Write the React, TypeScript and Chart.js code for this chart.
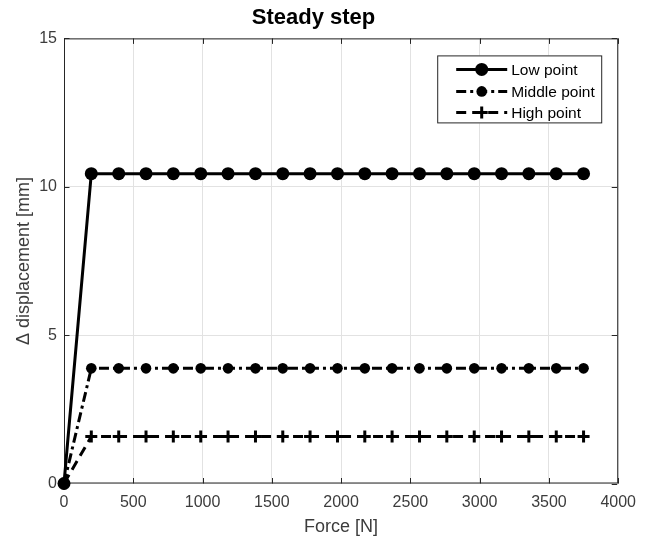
import { useEffect, useRef } from "react";
import { Chart, registerables } from "chart.js";

Chart.register(...registerables);

// Applied force levels [N]
const forceN = [0, 197, 395, 592, 789, 987, 1184, 1382, 1579, 1776, 1974, 2171, 2368, 2566, 2763, 2961, 3158, 3355, 3553, 3750];

// Displacement change [mm] measured at each point
const lowPoint = [0, 10.44, 10.44, 10.44, 10.44, 10.44, 10.44, 10.44, 10.44, 10.44, 10.44, 10.44, 10.44, 10.44, 10.44, 10.44, 10.44, 10.44, 10.44, 10.44];
const middlePoint = [0, 3.88, 3.88, 3.88, 3.88, 3.88, 3.88, 3.88, 3.88, 3.88, 3.88, 3.88, 3.88, 3.88, 3.88, 3.88, 3.88, 3.88, 3.88, 3.88];
const highPoint = [0, 1.58, 1.58, 1.58, 1.58, 1.58, 1.58, 1.58, 1.58, 1.58, 1.58, 1.58, 1.58, 1.58, 1.58, 1.58, 1.58, 1.58, 1.58, 1.58];

const xTicks = [0, 500, 1000, 1500, 2000, 2500, 3000, 3500, 4000];
const yTicks = [0, 5, 10, 15];

const seriesNames = ["Low point", "Middle point", "High point"];

const FONT = "'Liberation Sans', Arial, Helvetica, sans-serif";
const AXIS_COLOR = "#262626";
const LABEL_COLOR = "#3c3c3c";

type SeriesStyle = { dash: number[]; pointStyle: string; radius: number; width: number };
const styles: SeriesStyle[] = [
  { dash: [], pointStyle: "circle", radius: 6.5, width: 3 },
  { dash: [10, 4, 3, 4], pointStyle: "circle", radius: 5.3, width: 3 },
  { dash: [10, 6], pointStyle: "cross", radius: 6, width: 3 },
];

// Box frame with inward tick marks on all four sides
const framePlugin = {
  id: "boxFrame",
  beforeDatasetsDraw(chart: any) {
    const { ctx, chartArea: a, scales } = chart;
    const tick = 5.5;
    ctx.save();
    ctx.strokeStyle = AXIS_COLOR;
    ctx.lineWidth = 1;
    ctx.strokeRect(a.left + 0.5, a.top + 0.5, a.right - a.left - 1, a.bottom - a.top - 1);
    ctx.beginPath();
    for (const v of xTicks) {
      const px = Math.round(scales.x.getPixelForValue(v)) + 0.5;
      ctx.moveTo(px, a.bottom);
      ctx.lineTo(px, a.bottom - tick);
      ctx.moveTo(px, a.top);
      ctx.lineTo(px, a.top + tick);
    }
    for (const v of yTicks) {
      const py = Math.round(scales.y.getPixelForValue(v)) + 0.5;
      ctx.moveTo(a.left, py);
      ctx.lineTo(a.left + tick, py);
      ctx.moveTo(a.right - 1, py);
      ctx.lineTo(a.right - 1 - tick, py);
    }
    ctx.stroke();
    ctx.restore();
  },
};

// Boxed legend in the upper-right corner of the plot area
const legendPlugin = {
  id: "boxLegend",
  afterDatasetsDraw(chart: any) {
    const { ctx, chartArea: a } = chart;
    const boxRight = a.right - 16;
    const boxLeft = boxRight - 165;
    const boxTop = a.top + 17;
    const boxH = 68;
    ctx.save();
    ctx.fillStyle = "#ffffff";
    ctx.fillRect(boxLeft, boxTop, boxRight - boxLeft, boxH);
    ctx.strokeStyle = AXIS_COLOR;
    ctx.lineWidth = 1;
    ctx.strokeRect(boxLeft + 0.5, boxTop + 0.5, boxRight - boxLeft - 1, boxH - 1);

    const rows = [boxTop + 14, boxTop + 36, boxTop + 57];
    const x0 = boxLeft + 19;
    const x1 = boxLeft + 70;
    const xm = (x0 + x1) / 2;
    seriesNames.forEach((name, i) => {
      const s = styles[i];
      const y = rows[i];
      ctx.strokeStyle = "#000";
      ctx.lineWidth = s.width;
      ctx.setLineDash(s.dash);
      ctx.beginPath();
      ctx.moveTo(x0, y);
      ctx.lineTo(x1, y);
      ctx.stroke();
      ctx.setLineDash([]);
      if (s.pointStyle === "circle") {
        ctx.fillStyle = "#000";
        ctx.beginPath();
        ctx.arc(xm, y, s.radius, 0, Math.PI * 2);
        ctx.fill();
      } else {
        ctx.lineWidth = 3;
        ctx.beginPath();
        ctx.moveTo(xm - s.radius, y);
        ctx.lineTo(xm + s.radius, y);
        ctx.moveTo(xm, y - s.radius);
        ctx.lineTo(xm, y + s.radius);
        ctx.stroke();
      }
      ctx.fillStyle = "#000";
      ctx.font = `15.5px ${FONT}`;
      ctx.textAlign = "left";
      ctx.textBaseline = "middle";
      ctx.fillText(name, x1 + 4, y + 1);
    });
    ctx.restore();
  },
};

export default function App() {
  const canvasRef = useRef<HTMLCanvasElement | null>(null);

  useEffect(() => {
    const canvas = canvasRef.current;
    if (!canvas) return;
    const values = [lowPoint, middlePoint, highPoint];
    const chart = new Chart(canvas, {
      type: "line",
      data: {
        datasets: values.map((vals, i) => ({
          label: seriesNames[i],
          data: forceN.map((x, j) => ({ x, y: vals[j] })),
          borderColor: "#000",
          backgroundColor: "#000",
          borderWidth: styles[i].width,
          borderDash: styles[i].dash,
          pointStyle: styles[i].pointStyle as any,
          pointRadius: styles[i].radius,
          pointBorderWidth: styles[i].pointStyle === "cross" ? 3 : 0,
          pointBackgroundColor: "#000",
          pointBorderColor: "#000",
          tension: 0,
          fill: false,
          clip: false as any,
        })),
      },
      options: {
        animation: false,
        responsive: false,
        maintainAspectRatio: false,
        layout: { padding: { left: 0, right: 18, top: 0, bottom: 0 } },
        plugins: {
          legend: { display: false },
          tooltip: { enabled: false },
          title: {
            display: true,
            text: "Steady step",
            color: "#000",
            font: { family: FONT, size: 22, weight: "bold" },
            padding: { top: 5, bottom: 7 },
          },
        },
        scales: {
          x: {
            type: "linear",
            min: 0,
            max: 4000,
            afterBuildTicks: (scale: any) => {
              scale.ticks = xTicks.map((value) => ({ value }));
            },
            afterFit: (scale: any) => {
              scale.height = 58.5;
            },
            grid: { color: "#e2e2e2", lineWidth: 1, drawTicks: false },
            border: { display: false },
            ticks: {
              color: LABEL_COLOR,
              font: { family: FONT, size: 16 },
              padding: 9,
              maxRotation: 0,
              autoSkip: false,
              callback: (v: any) => String(v),
            },
            title: {
              display: true,
              text: "Force [N]",
              color: LABEL_COLOR,
              font: { family: FONT, size: 18 },
              padding: { top: 0, bottom: 4 },
            },
          },
          y: {
            type: "linear",
            min: 0,
            max: 15,
            afterBuildTicks: (scale: any) => {
              scale.ticks = yTicks.map((value) => ({ value }));
            },
            afterFit: (scale: any) => {
              scale.width = 64;
            },
            grid: { color: "#e2e2e2", lineWidth: 1, drawTicks: false },
            border: { display: false },
            ticks: {
              color: LABEL_COLOR,
              font: { family: FONT, size: 16 },
              padding: 7,
              callback: (v: any) => String(v),
            },
            title: {
              display: true,
              text: "Δ displacement [mm]",
              color: LABEL_COLOR,
              font: { family: FONT, size: 18 },
              padding: { top: 13, bottom: 0 },
            },
          },
        },
      },
      plugins: [framePlugin, legendPlugin],
    });
    return () => chart.destroy();
  }, []);

  return (
    <div style={{ position: "fixed", left: 0, top: 0, width: 645, height: 542, background: "#fff" }}>
      <canvas ref={canvasRef} width={645} height={542} style={{ width: 645, height: 542 }} />
    </div>
  );
}
